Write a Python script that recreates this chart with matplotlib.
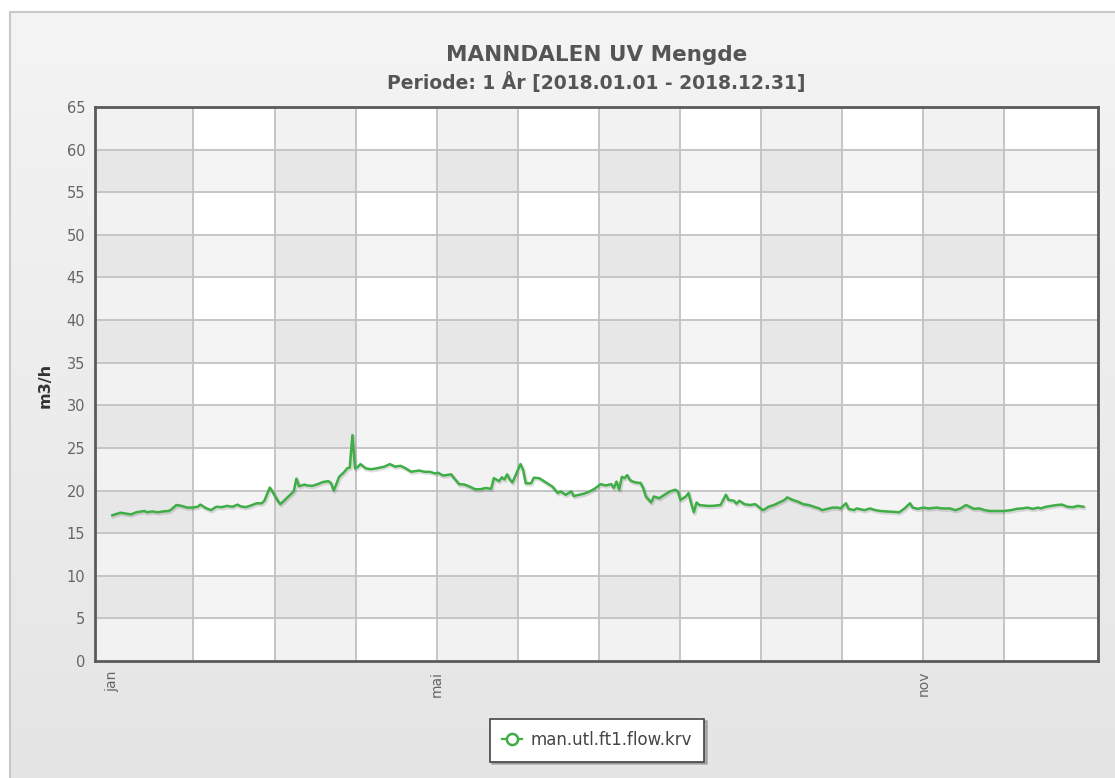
import numpy as np
import matplotlib
matplotlib.use('Agg')
import matplotlib.pyplot as plt
import matplotlib.patheffects as pe
from matplotlib.lines import Line2D
from matplotlib.colors import LinearSegmentedColormap

# ---- data (day offset from 2018-01-01, flow in m3/h) ----
days = [0, 3, 5, 7, 9, 12, 13, 15, 17, 19, 21, 22, 24, 26, 28, 30, 32, 33, 35, 37,
        39, 41, 43, 45, 47, 48, 50, 52, 54, 56, 57, 59, 60, 62, 63, 65, 67, 68, 69, 70,
        72, 73, 75, 77, 79, 81, 82, 83, 85, 87, 88, 89, 90, 91, 92, 93, 95, 97, 99, 102,
        104, 106, 108, 110, 112, 115, 117, 119, 121, 122, 124, 127, 128, 130, 132, 134, 136, 138, 140, 142,
        143, 145, 146, 147, 148, 149, 150, 152, 153, 154, 155, 157, 158, 160, 161, 163, 165, 167, 168, 170,
        172, 173, 175, 177, 179, 181, 183, 185, 187, 188, 189, 190, 191, 192, 193, 194, 195, 197, 198, 199,
        200, 202, 203, 205, 207, 209, 211, 212, 213, 215, 216, 217, 218, 219, 220, 223, 225, 228, 230, 231,
        233, 234, 235, 237, 239, 241, 243, 244, 246, 248, 250, 252, 253, 255, 257, 259, 261, 263, 265, 266,
        268, 270, 272, 273, 275, 276, 278, 279, 282, 284, 286, 288, 290, 293, 295, 297, 299, 300, 302, 304,
        306, 309, 311, 314, 316, 318, 320, 322, 323, 325, 327, 329, 331, 334, 337, 339, 341, 343, 345, 347,
        348, 350, 352, 354, 356, 358, 360, 362, 364]
flow = [17.1, 17.4, 17.3, 17.2, 17.45, 17.6, 17.45, 17.55, 17.45, 17.55, 17.6, 17.75, 18.3, 18.2, 18.0, 18.0, 18.1, 18.35, 17.95, 17.7,
        18.1, 18.05, 18.2, 18.1, 18.35, 18.15, 18.05, 18.25, 18.5, 18.5, 18.8, 20.35, 19.9, 18.8, 18.4, 19.0, 19.6, 19.9, 21.4, 20.5,
        20.7, 20.6, 20.55, 20.75, 21.0, 21.1, 20.85, 20.0, 21.6, 22.2, 22.6, 22.7, 26.5, 22.6, 22.75, 23.1, 22.6, 22.5, 22.6, 22.8,
        23.1, 22.8, 22.9, 22.6, 22.2, 22.35, 22.2, 22.2, 22.0, 22.1, 21.75, 21.9, 21.5, 20.75, 20.7, 20.45, 20.15, 20.15, 20.3, 20.2,
        21.45, 21.1, 21.55, 21.3, 21.9, 21.3, 20.95, 22.4, 23.1, 22.4, 20.85, 20.85, 21.5, 21.45, 21.25, 20.85, 20.45, 19.7, 19.9, 19.5,
        19.9, 19.35, 19.5, 19.65, 19.9, 20.25, 20.75, 20.6, 20.75, 20.3, 21.05, 20.1, 21.6, 21.45, 21.8, 21.25, 21.05, 20.9, 20.9, 20.3,
        19.3, 18.6, 19.3, 19.1, 19.5, 19.9, 20.1, 19.9, 18.9, 19.3, 19.7, 18.5, 17.45, 18.6, 18.3, 18.2, 18.2, 18.3, 19.5, 18.9,
        18.8, 18.45, 18.8, 18.4, 18.3, 18.4, 17.9, 17.7, 18.1, 18.3, 18.6, 18.9, 19.2, 18.9, 18.7, 18.4, 18.3, 18.1, 17.9, 17.7,
        17.85, 18.0, 18.0, 17.9, 18.5, 17.85, 17.7, 17.9, 17.7, 17.9, 17.7, 17.6, 17.55, 17.5, 17.45, 17.9, 18.5, 18.0, 17.85, 18.0,
        17.9, 18.0, 17.9, 17.9, 17.7, 17.9, 18.3, 18.0, 17.85, 17.9, 17.7, 17.6, 17.6, 17.6, 17.7, 17.85, 17.9, 18.0, 17.85, 18.0,
        17.9, 18.1, 18.2, 18.3, 18.35, 18.1, 18.05, 18.2, 18.1]

y_ticks = list(range(0, 70, 5))
month_step = 30.4
x_tick_pos = [0, 4 * month_step, 10 * month_step]
x_tick_labels = ['jan', 'mai', 'nov']
series_label = 'man.utl.ft1.flow.krv'
title = 'MANNDALEN UV Mengde'
subtitle = 'Periode: 1 År [2018.01.01 - 2018.12.31]'
y_label = 'm3/h'

W, H = 1115, 778
fig = plt.figure(figsize=(W / 100, H / 100), dpi=100)
fig.patch.set_facecolor('white')

# panel background with gradient
bg = fig.add_axes([10 / W, 0, 1 - 10 / W + 0.01, 1 - 12 / H], zorder=-10)
grad = np.linspace(0, 1, 256).reshape(-1, 1)
cmap = LinearSegmentedColormap.from_list('g', ['#f4f4f4', '#e5e5e5'])
bg.imshow(grad, aspect='auto', cmap=cmap, extent=[0, 1, 0, 1], origin='upper')
bg.set_xticks([]); bg.set_yticks([])
for s in ['right', 'bottom']:
    bg.spines[s].set_visible(False)
for s in ['left', 'top']:
    bg.spines[s].set_color('#c8c8c8')
    bg.spines[s].set_linewidth(1.5)

# plot area
x0, x1, y0, y1 = 95, 1098, 661, 107
ax = fig.add_axes([x0 / W, 1 - y0 / H, (x1 - x0) / W, (y0 - y1) / H])
ax.set_facecolor('white')
xlim = (-6.5, 369.5)
ax.set_xlim(*xlim)
ax.set_ylim(0, 65)

# row bands
for i, v in enumerate(y_ticks[:-1]):
    if i % 2 == 1:
        ax.axhspan(v, v + 5, color='black', alpha=0.045, lw=0, zorder=0)
# column bands
bounds = [xlim[0]] + [k * month_step for k in range(1, 12)] + [xlim[1]]
for i in range(len(bounds) - 1):
    if i % 2 == 0:
        ax.axvspan(bounds[i], bounds[i + 1], color='black', alpha=0.05, lw=0, zorder=0)

# grid
for v in y_ticks[1:-1]:
    ax.axhline(v, color='#c2c2c2', lw=1.3, zorder=1)
for b in bounds[1:-1]:
    ax.axvline(b, color='#c2c2c2', lw=1.3, zorder=1)

green = '#3fae47'
ax.plot(days, flow, color=green, lw=1.8, zorder=3,
        path_effects=[pe.SimpleLineShadow(offset=(0.7, -1.0), shadow_color='black', alpha=0.12, linewidth=2.8),
                      pe.Normal()])

for s in ax.spines.values():
    s.set_color('#5a5a5a')
    s.set_linewidth(2.0)
    s.set_zorder(5)

ax.set_yticks(y_ticks)
ax.set_yticklabels([str(v) for v in y_ticks], fontsize=10.5, color='#666666')
ax.set_xticks(x_tick_pos)
ax.set_xticklabels(x_tick_labels, rotation=90, fontsize=10, color='#666666', va='top')
ax.tick_params(axis='y', length=0, pad=7)
ax.tick_params(axis='x', length=0, pad=7)

fig.text((x0 + x1) / 2 / W, 1 - 55 / H, title, ha='center', va='center',
         fontsize=15.5, fontweight='bold', color='#555555')
fig.text((x0 + x1) / 2 / W, 1 - 83 / H, subtitle, ha='center', va='center',
         fontsize=13.5, fontweight='bold', color='#555555')
fig.text(45 / W, 1 - 385 / H, y_label, rotation=90, ha='center', va='center',
         fontsize=11.5, fontweight='bold', color='#333333')

handle = Line2D([0], [0], color=green, lw=1.6, marker='o', markersize=8,
                markerfacecolor='white', markeredgecolor=green, markeredgewidth=1.8)
leg = fig.legend([handle], [series_label], loc='center', bbox_to_anchor=(597 / W, 1 - 740 / H),
                 frameon=True, fancybox=False, shadow={'color': '0.55', 'alpha': 0.6},
                 edgecolor='#444444', handlelength=1.2, fontsize=12, borderpad=0.75,
                 handletextpad=0.5, borderaxespad=0)
leg.get_frame().set_linewidth(1.2)
for t in leg.get_texts():
    t.set_color('#444444')

fig.savefig('out.png', dpi=100)
